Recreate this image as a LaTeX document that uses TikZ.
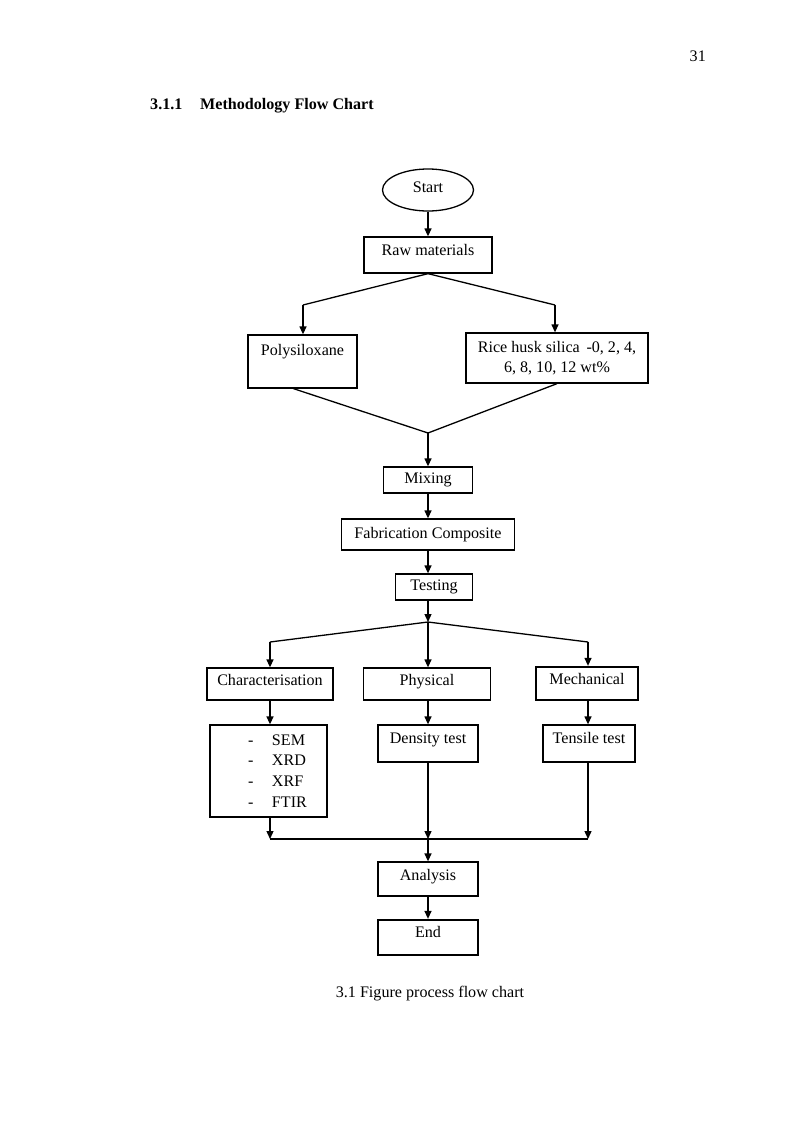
\documentclass[tikz,border=0pt]{standalone}
\usepackage{fontspec}
\setmainfont{Liberation Serif}
\usetikzlibrary{arrows.meta,shapes.geometric,calc}
\begin{document}
\begin{tikzpicture}[x=1pt,y=-1pt,
  font=\fontsize{16.1}{20.7}\selectfont,
  box/.style={draw, line width=1.3pt, inner sep=0pt, align=center},
  hi/.style={text height=10pt, text depth=8pt},
  hier/.style={text height=10pt, text depth=10pt},
  thick box/.style={line width=2.3pt},
  arr/.style={-{Triangle[length=8pt,width=7pt]}, line width=1.3pt},
  ln/.style={line width=1.3pt},
  plain/.style={inner sep=0pt},
]
\useasboundingbox (0,0) rectangle (800,1132);

% header texts
\node[plain, anchor=base east] (pg) at (706,62) {31};
\node[plain, anchor=base west, font=\fontsize{16.1}{20.7}\selectfont\bfseries] (secnum) at (150,109) {3.1.1};
\node[plain, anchor=base west, font=\fontsize{16.1}{20.7}\selectfont\bfseries] (sectitle) at (200,109) {Methodology Flow Chart};

% nodes
\node[draw, ellipse, line width=1.3pt, minimum width=91pt, minimum height=42pt, inner sep=0pt, text height=10pt, text depth=6pt] (start) at (428,190) {Start};
\node[box, hier, minimum width=128pt, minimum height=36pt] (raw) at (428,255) {Raw materials};
\node[box, text height=10pt, text depth=23pt, minimum width=109pt, minimum height=53pt] (poly) at (302.5,361.5) {Polysiloxane};
\node[box, minimum width=182pt, minimum height=50pt] (rice) at (557,358) {Rice husk silica \,-0, 2, 4,\\6, 8, 10, 12 wt\%};
\node[box, minimum width=89pt, minimum height=26pt] (mix) at (428,480) {Mixing};
\node[box, minimum width=173pt, minimum height=31pt] (fab) at (428,534.5) {Fabrication Composite};
\node[box, minimum width=77pt, minimum height=26pt] (test) at (434,587) {Testing};
\node[box, hi, minimum width=126pt, minimum height=32pt] (char) at (270,684) {Characterisation};
\node[box, hi, minimum width=127pt, minimum height=32pt] (phys) at (427,684) {Physical};
\node[box, hi, thick box, minimum width=102pt, minimum height=33pt] (mech) at (587,683.5) {Mechanical};
\node[box, align=left, text width=117pt, inner xsep=0pt, minimum height=92pt] (list) at (268.5,771)
  {\hspace*{38pt}\makebox[24pt][l]{-}SEM\\
   \hspace*{38pt}\makebox[24pt][l]{-}XRD\\
   \hspace*{38pt}\makebox[24pt][l]{-}XRF\\
   \hspace*{38pt}\makebox[24pt][l]{-}FTIR};
\node[box, hier, minimum width=100pt, minimum height=37pt] (dens) at (428,743.5) {Density test};
\node[box, hier, minimum width=92pt, minimum height=37pt] (tens) at (589,743.5) {Tensile test};
\node[box, hi, minimum width=100pt, minimum height=34pt] (anal) at (428,879) {Analysis};
\node[box, hier, thick box, minimum width=100pt, minimum height=35pt] (end) at (428,937.5) {End};

\node[plain, anchor=base] (cap) at (430,997) {3.1 Figure process flow chart};

% junction coordinates
\coordinate (b1) at (303,305);
\coordinate (b2) at (555,305);
\coordinate (m1) at (428,433);
\coordinate (j) at (428,622);
\coordinate (c1) at (270,642);
\coordinate (c3) at (588,642);
\coordinate (h1) at (270,839);
\coordinate (h2) at (428,839);
\coordinate (h3) at (588,839);

% connectors
\draw[arr] (start.south) -- (raw.north);
\draw[ln] (raw.south) -- (b1);
\draw[ln] (raw.south) -- (b2);
\draw[arr] (b1) -- (b1 |- poly.north);
\draw[arr] (b2) -- (b2 |- rice.north);
\draw[ln] ($(poly.south)+(-9,0)$) -- (m1) -- (rice.south);
\draw[arr] (m1) -- (m1 |- mix.north);
\draw[arr] (m1 |- mix.south) -- (m1 |- fab.north);
\draw[arr] (m1 |- fab.south) -- (m1 |- test.north);
\draw[arr] (j |- test.south) -- (j);
\draw[ln] (j) -- (c1);
\draw[ln] (j) -- (c3);
\draw[arr] (c1) -- (c1 |- char.north);
\draw[arr] (j) -- (j |- phys.north);
\draw[arr] (c3) -- (c3 |- mech.north);
\draw[arr] (char.south) -- (char.south |- list.north);
\draw[arr] (j |- phys.south) -- (j |- dens.north);
\draw[arr] (c3 |- mech.south) -- (c3 |- tens.north);
\draw[arr] (h1 |- list.south) -- (h1);
\draw[arr] (h2 |- dens.south) -- (h2);
\draw[arr] (h3 |- tens.south) -- (h3);
\draw[ln] (h1) -- (h3);
\draw[arr] (h2) -- (h2 |- anal.north);
\draw[arr] (anal.south) -- (anal.south |- end.north);
\end{tikzpicture}
\end{document}
